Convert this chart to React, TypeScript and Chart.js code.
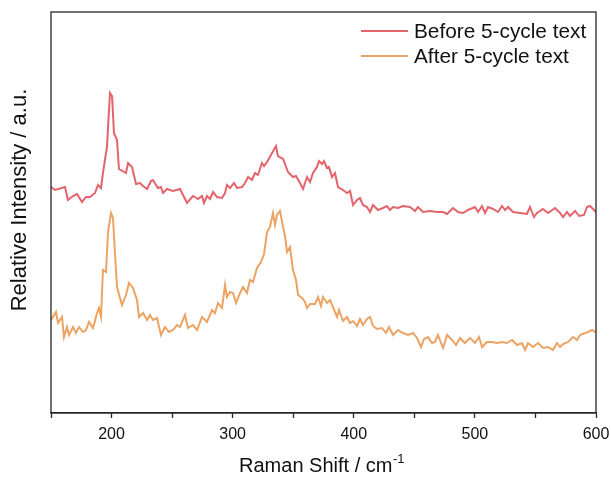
import React, { useEffect, useRef } from 'react';
import { Chart, registerables } from 'chart.js';

Chart.register(...registerables);

// ---- Data (Raman shift in cm^-1, relative intensity in a.u.) ----
const beforeLabel = 'Before 5-cycle text';
const afterLabel = 'After 5-cycle text';
const xTitleMain = 'Raman Shift / cm';
const xTitleSup = '-1';
const yTitle = 'Relative Intensity / a.u.';

const xMin = 150;
const xMax = 600;
const xStep = 50;
const xLabelStep = 100;
const yMin = 0;
const yMax = 401;

const beforeShift = [
  150, 153.3, 161.6, 164.0, 168.2, 171.5, 175.6, 178.9, 182.2, 186.3, 188.8, 191.3, 192.9, 196.2, 198.7,
  200.4, 202.0, 204.5, 206.1, 211.9, 213.6, 216.9, 220.2, 223.5, 226.0, 229.3, 232.6, 234.2, 238.3, 240.8,
  242.5, 245.8, 250.7, 256.5, 259.0, 262.3, 267.2, 271.4, 274.7, 276.3, 278.8, 281.3, 283.8, 287.1, 291.2,
  293.7, 295.3, 297.8, 301.1, 303.6, 307.7, 310.2, 312.7, 316.0, 318.4, 320.9, 324.2, 325.9, 328.4, 332.5,
  335.8, 337.4, 341.6, 345.7, 349.8, 352.3, 355.6, 358.1, 361.4, 363.9, 366.3, 369.6, 371.3, 373.8, 375.4,
  377.9, 379.5, 382.0, 384.5, 387.0, 391.1, 394.4, 396.9, 399.4, 402.7, 405.1, 407.6, 410.9, 413.4, 415.9,
  420.0, 424.1, 427.4, 429.9, 432.4, 436.5, 440.6, 446.4, 450.6, 453.0, 457.2, 462.9, 468.7, 473.7, 477.0,
  481.9, 486.1, 490.2, 494.3, 500.1, 502.6, 505.9, 508.4, 510.8, 515.0, 519.1, 522.4, 524.9, 527.4, 531.5,
  537.3, 543.0, 545.5, 548.8, 551.3, 556.2, 560.4, 566.2, 570.3, 572.8, 576.1, 578.5, 582.7, 586.0, 590.1,
  592.6, 595.0, 599.2, 600,
];
const beforeIntensity = [
  226, 223, 226, 213, 217, 219, 211, 216, 216, 220, 228, 225, 240, 266, 320,
  317, 280, 273, 244, 240, 250, 246, 229, 230, 227, 224, 232, 233, 225, 226,
  220, 224, 222, 224, 218, 210, 217, 214, 217, 210, 217, 214, 221, 216, 215,
  220, 228, 225, 230, 225, 226, 230, 236, 233, 240, 238, 250, 247, 251, 260,
  267, 257, 254, 241, 236, 237, 230, 224, 236, 231, 240, 246, 252, 249, 252,
  245, 246, 236, 240, 226, 223, 220, 222, 208, 213, 215, 208, 206, 201, 208,
  203, 205, 207, 203, 206, 205, 207, 206, 202, 206, 201, 202, 201, 201, 199,
  205, 201, 200, 203, 206, 201, 207, 200, 206, 204, 201, 207, 203, 206, 201,
  200, 199, 206, 196, 200, 204, 200, 205, 200, 196, 201, 197, 202, 197, 198,
  206, 207, 202, 201,
];

const afterShift = [
  150, 154.1, 155.8, 159.1, 160.7, 163.2, 164.9, 168.2, 170.6, 173.1, 176.4, 178.9, 181.4, 184.7, 188.0,
  189.6, 191.3, 192.9, 195.4, 197.1, 199.5, 201.2, 202.8, 204.5, 208.6, 211.9, 214.4, 217.7, 221.0, 222.7,
  226.0, 229.3, 231.7, 234.2, 237.5, 240.8, 244.1, 247.4, 250.7, 254.0, 256.5, 260.6, 263.1, 267.2, 270.6,
  274.7, 278.8, 282.9, 285.4, 287.9, 291.2, 293.7, 295.3, 297.8, 300.3, 302.8, 306.1, 308.5, 311.8, 314.3,
  316.8, 320.1, 323.4, 325.9, 328.4, 330.8, 333.3, 335.0, 336.6, 339.1, 341.6, 343.2, 344.9, 347.3, 349.8,
  352.3, 354.0, 357.3, 359.7, 361.4, 363.9, 368.0, 370.5, 372.9, 374.6, 377.9, 380.4, 382.8, 386.2, 387.8,
  391.1, 394.4, 396.9, 399.4, 402.7, 405.1, 407.6, 410.9, 413.4, 415.9, 419.2, 423.3, 426.6, 429.1, 432.4,
  436.5, 440.6, 444.8, 448.9, 452.2, 455.5, 458.0, 461.3, 464.6, 467.1, 469.5, 473.7, 477.0, 481.1, 484.4,
  487.7, 491.8, 496.0, 500.1, 503.4, 505.9, 510.0, 514.1, 518.3, 522.4, 526.5, 530.7, 534.8, 538.9, 541.4,
  543.9, 548.0, 552.1, 556.2, 560.4, 564.5, 567.8, 570.3, 572.8, 576.9, 581.0, 584.3, 586.8, 590.9, 593.4,
  596.7, 599.2, 600,
];
const afterIntensity = [
  93, 101, 90, 96, 76, 86, 78, 86, 80, 86, 81, 83, 91, 85, 100,
  105, 96, 143, 141, 181, 200, 195, 160, 126, 108, 118, 130, 125, 113, 96,
  100, 93, 98, 93, 95, 78, 86, 81, 83, 88, 86, 98, 85, 88, 83,
  96, 91, 103, 100, 110, 105, 128, 116, 121, 120, 110, 120, 126, 120, 133,
  131, 145, 151, 159, 181, 186, 200, 188, 198, 202, 186, 177, 161, 166, 143,
  133, 118, 115, 111, 105, 109, 109, 116, 107, 116, 110, 113, 106, 96, 103,
  92, 96, 90, 92, 87, 94, 88, 94, 96, 87, 84, 85, 80, 86, 78,
  83, 80, 78, 80, 75, 66, 74, 76, 70, 71, 78, 65, 78, 73, 68,
  75, 70, 75, 70, 76, 66, 71, 71, 70, 71, 70, 73, 68, 70, 63,
  70, 66, 70, 65, 66, 63, 70, 66, 69, 71, 76, 73, 78, 80, 81,
  83, 81, 82,
];

const beforeColor = 'rgb(227, 100, 107)';
const afterColor = 'rgb(236, 163, 99)';
const FONT = '"Liberation Sans", Arial, Helvetica, sans-serif';

const toPoints = (xs: number[], ys: number[]) => xs.map((x, i) => ({ x, y: ys[i] }));

const decorPlugin = {
  id: 'decor',
  afterDraw(chart: any) {
    const { ctx, chartArea: a } = chart;
    ctx.save();
    // frame
    ctx.strokeStyle = '#262626';
    ctx.lineWidth = 1.3;
    ctx.strokeRect(a.left, a.top, a.right - a.left, a.bottom - a.top);

    // legend
    const items = chart.data.datasets.map((d: any) => ({ label: d.label, color: d.borderColor }));
    ctx.font = `20.8px ${FONT}`;
    ctx.textBaseline = 'middle';
    ctx.textAlign = 'left';
    items.forEach((it: any, i: number) => {
      const y = 31 + i * 25;
      ctx.strokeStyle = it.color;
      ctx.lineWidth = 1.8;
      ctx.beginPath();
      ctx.moveTo(361, y);
      ctx.lineTo(408, y);
      ctx.stroke();
      ctx.fillStyle = '#111';
      ctx.fillText(it.label, 414, y + 1);
    });

    // x title with superscript
    ctx.fillStyle = '#111';
    ctx.textBaseline = 'alphabetic';
    ctx.font = `20px ${FONT}`;
    const wMain = ctx.measureText(xTitleMain).width;
    ctx.font = `13px ${FONT}`;
    const wSup = ctx.measureText(xTitleSup).width;
    const cx = (a.left + a.right) / 2 - 2;
    const startX = cx - (wMain + wSup) / 2;
    ctx.font = `20px ${FONT}`;
    ctx.fillText(xTitleMain, startX, 472);
    ctx.font = `13px ${FONT}`;
    ctx.fillText(xTitleSup, startX + wMain + 0.5, 463);

    // y title
    ctx.translate(26, 200);
    ctx.rotate(-Math.PI / 2);
    ctx.textAlign = 'center';
    ctx.font = `22px ${FONT}`;
    ctx.fillText(yTitle, 0, 0);
    ctx.restore();
  },
};

export default function App() {
  const canvasRef = useRef<HTMLCanvasElement | null>(null);

  useEffect(() => {
    if (!canvasRef.current) return;
    const chart = new Chart(canvasRef.current, {
      type: 'line',
      data: {
        datasets: [
          {
            label: beforeLabel,
            data: toPoints(beforeShift, beforeIntensity),
            borderColor: beforeColor,
            backgroundColor: beforeColor,
            borderWidth: 2,
            pointRadius: 0,
            tension: 0,
            fill: false,
          },
          {
            label: afterLabel,
            data: toPoints(afterShift, afterIntensity),
            borderColor: afterColor,
            backgroundColor: afterColor,
            borderWidth: 2,
            pointRadius: 0,
            tension: 0,
            fill: false,
          },
        ],
      },
      options: {
        responsive: false,
        animation: false,
        devicePixelRatio: 1,
        layout: { padding: { left: 51, right: 15, top: 12, bottom: 0 } },
        plugins: {
          legend: { display: false },
          tooltip: { enabled: false },
        },
        scales: {
          x: {
            type: 'linear',
            position: 'bottom',
            min: xMin,
            max: xMax,
            afterFit: (s: any) => {
              s.height = 65;
              s.paddingLeft = 0;
              s.paddingRight = 0;
            },
            grid: {
              drawOnChartArea: false,
              drawTicks: true,
              tickLength: 5,
              tickColor: '#262626',
              tickWidth: 1.3,
            },
            border: { display: true, color: '#262626', width: 1.3 },
            ticks: {
              stepSize: xStep,
              autoSkip: false,
              maxRotation: 0,
              padding: 7,
              color: '#111',
              font: { size: 16, family: FONT },
              callback: (v: any) => (Number(v) % xLabelStep === 0 ? String(v) : ''),
            },
          },
          y: {
            display: false,
            min: yMin,
            max: yMax,
          },
        },
      },
      plugins: [decorPlugin],
    } as any);
    return () => chart.destroy();
  }, []);

  return (
    <div style={{ position: 'absolute', left: 0, top: 0, width: 611, height: 478, background: '#fff' }}>
      <canvas ref={canvasRef} width={611} height={478} style={{ display: 'block' }} />
    </div>
  );
}
